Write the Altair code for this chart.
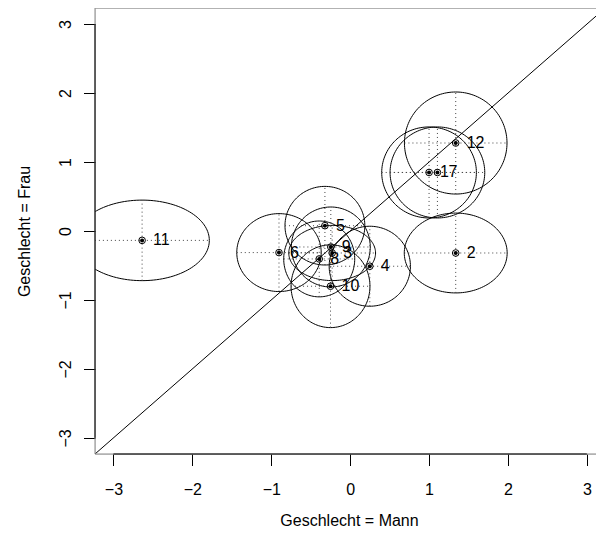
import altair as alt
import numpy as np
import pandas as pd

# Item parameters estimated in the two groups
items = [1, 2, 3, 4, 5, 6, 7, 8, 9, 10, 11, 12]
mann = [1.000, 1.338, -0.228, 0.249, -0.320, -0.902, 1.106, -0.392, -0.245, -0.249, -2.637, 1.338]
frau = [0.849, -0.319, -0.319, -0.511, 0.077, -0.313, 0.849, -0.405, -0.232, -0.801, -0.136, 1.276]
# half-widths of the confidence ellipses (x: Mann, y: Frau)
rad_mann = [0.60, 0.652, 0.55, 0.515, 0.506, 0.535, 0.60, 0.45, 0.50, 0.50, 0.852, 0.650]
rad_frau = [0.66, 0.579, 0.40, 0.58, 0.570, 0.565, 0.66, 0.55, 0.58, 0.60, 0.584, 0.740]
tick_values = [-3, -2, -1, 0, 1, 2, 3]
xlim = [-3.234, 3.116]   # the box continues past the right edge of the picture
ylim = [-3.234, 3.234]

FONT = "Liberation Sans"
W, H = 501, 446

pts = pd.DataFrame({"item": items, "mann": mann, "frau": frau,
                    "rx": rad_mann, "ry": rad_frau})
pts["x1"] = pts.mann - pts.rx
pts["x2"] = pts.mann + pts.rx
pts["y1"] = pts.frau - pts.ry
pts["y2"] = pts.frau + pts.ry

t = np.linspace(0, 2 * np.pi, 145)
rows = []
for it, cx, cy, rx, ry in zip(items, mann, frau, rad_mann, rad_frau):
    for k, tt in enumerate(t):
        rows.append({"item": it, "k": k, "x": cx + rx * np.cos(tt), "y": cy + ry * np.sin(tt)})
ell = pd.DataFrame(rows)

diag = pd.DataFrame({"x": ylim, "y": ylim})

xs = alt.Scale(domain=xlim, nice=False, zero=False)
ys = alt.Scale(domain=ylim, nice=False, zero=False)

xaxis = alt.Axis(values=tick_values, format="d", title="Geschlecht = Mann", grid=False,
                 domain=False, tickColor="black", tickSize=11.5, labelFontSize=16,
                 labelFont=FONT, labelColor="black", labelPadding=16, titleFont=FONT,
                 titleFontSize=16, titleFontWeight="normal", titleColor="black", titleY=71,
                 titleX=254, titleAlign="center",
                 titleBaseline="alphabetic", labelFlush=False)
yaxis = alt.Axis(values=tick_values, format="d", title="Geschlecht = Frau", grid=False,
                 domain=False, tickColor="black", tickSize=11.5, labelFontSize=16,
                 labelFont=FONT, labelColor="black", labelPadding=13, labelAngle=270,
                 labelAlign="center", labelBaseline="alphabetic", titleFont=FONT,
                 titleFontSize=16, titleFontWeight="normal", titleColor="black",
                 titleAngle=270, titleX=-66, titleY=H / 2, titleAlign="center",
                 titleBaseline="alphabetic", labelFlush=False)

diag_layer = alt.Chart(diag).mark_line(color="black", strokeWidth=1, clip=True).encode(
    x=alt.X("x:Q", scale=xs, axis=xaxis), y=alt.Y("y:Q", scale=ys, axis=yaxis))

ell_layer = alt.Chart(ell).mark_line(color="black", strokeWidth=1, clip=True).encode(
    x=alt.X("x:Q", scale=xs), y=alt.Y("y:Q", scale=ys),
    detail="item:N", order="k:Q")

hline = alt.Chart(pts).mark_rule(color="#444", strokeWidth=1, strokeDash=[1, 3], clip=True).encode(
    x=alt.X("x1:Q", scale=xs), x2="x2:Q", y=alt.Y("frau:Q", scale=ys))
vline = alt.Chart(pts).mark_rule(color="#444", strokeWidth=1, strokeDash=[1, 3], clip=True).encode(
    x=alt.X("mann:Q", scale=xs), y=alt.Y("y1:Q", scale=ys), y2="y2:Q")

ring = alt.Chart(pts).mark_point(shape="circle", size=44, filled=False, color="black",
                                 strokeWidth=1, opacity=1).encode(
    x=alt.X("mann:Q", scale=xs), y=alt.Y("frau:Q", scale=ys))
dot = alt.Chart(pts).mark_point(shape="circle", size=16, filled=True, color="black",
                                opacity=1).encode(
    x=alt.X("mann:Q", scale=xs), y=alt.Y("frau:Q", scale=ys))

labels = alt.Chart(pts).mark_text(align="left", baseline="middle", dx=11, fontSize=16,
                                  font=FONT, color="black").encode(
    x=alt.X("mann:Q", scale=xs), y=alt.Y("frau:Q", scale=ys), text="item:N")

# plot box (grey) and R-style axis lines spanning the first to last tick (black)
box_df = pd.DataFrame({"a": [0]})
box_top = alt.Chart(box_df).mark_rule(color="#888", strokeWidth=1).encode(
    x=alt.value(0), x2=alt.value(W), y=alt.value(0))
box_bottom = alt.Chart(box_df).mark_rule(color="#888", strokeWidth=1).encode(
    x=alt.value(0), x2=alt.value(W), y=alt.value(H))
box_left = alt.Chart(box_df).mark_rule(color="#888", strokeWidth=1).encode(
    x=alt.value(0), y=alt.value(0), y2=alt.value(H))

ax_df = pd.DataFrame({"a": [tick_values[0]], "b": [tick_values[-1]]})
xline = alt.Chart(ax_df).mark_rule(color="black", strokeWidth=1).encode(
    x=alt.X("a:Q", scale=xs), x2="b:Q", y=alt.value(H))
yline = alt.Chart(ax_df).mark_rule(color="black", strokeWidth=1).encode(
    y=alt.Y("a:Q", scale=ys), y2="b:Q", x=alt.value(0))

chart = alt.layer(diag_layer, ell_layer, hline, vline, ring, dot, labels,
                  box_top, box_bottom, box_left, xline, yline).properties(
    width=W, height=H,
    autosize=alt.AutoSizeParams(type="none"),
    padding={"left": 87, "top": 0, "right": 0, "bottom": 73},
).configure_view(stroke=None).configure(background="white")

chart.save("out.html", embed_options={"renderer": "svg", "actions": False})
